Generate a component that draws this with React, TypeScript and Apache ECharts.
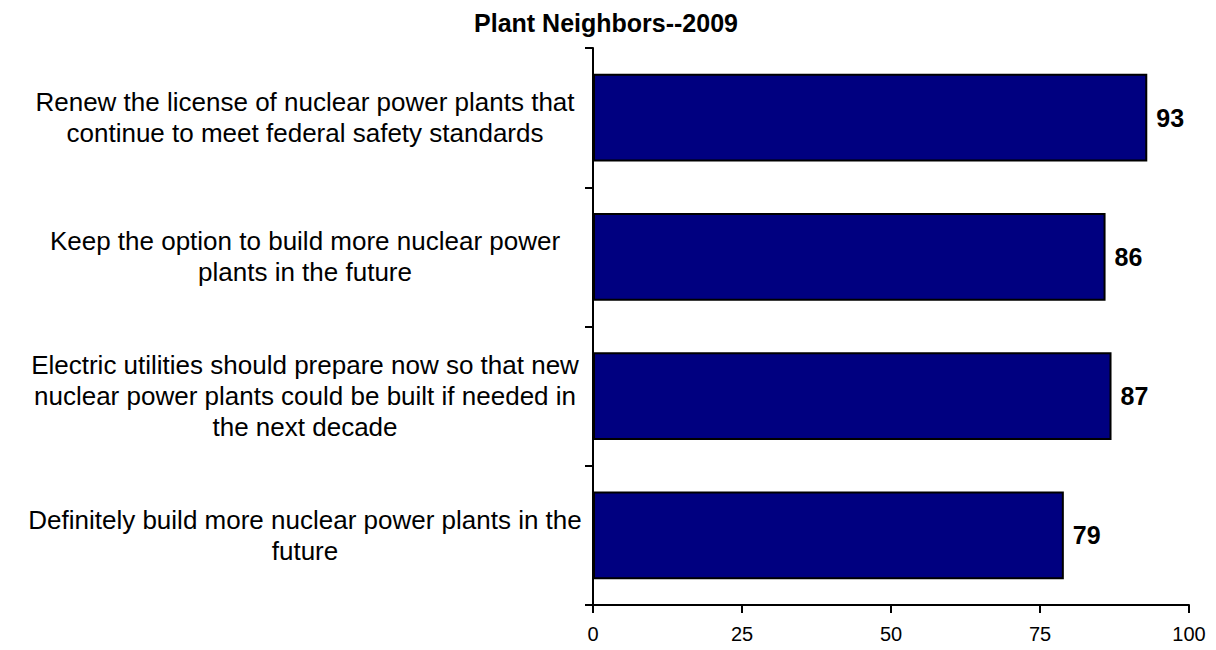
import React, { useEffect, useRef } from "react";
import * as echarts from "echarts";

const title = "Plant Neighbors--2009";
const categories = [
  "Renew the license of nuclear power plants that\ncontinue to meet federal safety standards",
  "Keep the option to build more nuclear power\nplants in the future",
  "Electric utilities should prepare now so that new\nnuclear power plants could be built if needed in\nthe next decade",
  "Definitely build more nuclear power plants in the\nfuture",
];
const values = [93, 86, 87, 79];
const xTicks = { min: 0, max: 100, interval: 25 };

export default function App() {
  const ref = useRef<HTMLDivElement>(null);
  useEffect(() => {
    if (!ref.current) return;
    const chart = echarts.init(ref.current, undefined, { renderer: "svg" });
    const font = "Liberation Sans, Arial, sans-serif";
    chart.setOption({
      animation: false,
      title: {
        text: title,
        left: 606,
        top: 10,
        padding: 0,
        textAlign: "center",
        textStyle: { fontFamily: font, fontSize: 25, lineHeight: 25, fontWeight: "bold", color: "#000" },
      },
      grid: { left: 593, right: 27, top: 48, bottom: 45, containLabel: false, outerBoundsMode: "none" },
      xAxis: {
        type: "value",
        min: xTicks.min,
        max: xTicks.max,
        interval: xTicks.interval,
        splitLine: { show: false },
        axisLine: { show: true, lineStyle: { color: "#000", width: 2 } },
        axisTick: { show: true, length: 8, lineStyle: { color: "#000", width: 2 } },
        axisLabel: { fontFamily: font, fontSize: 20, color: "#000", margin: 19 },
      },
      yAxis: {
        type: "category",
        inverse: true,
        data: categories,
        axisLine: { show: true, lineStyle: { color: "#000", width: 2 } },
        axisTick: { show: true, length: 8, lineStyle: { color: "#000", width: 2 } },
        axisLabel: {
          fontFamily: font,
          fontSize: 26,
          color: "#000",
          align: "center",
          margin: 288,
          lineHeight: 31,
        },
      },
      series: [
        {
          type: "bar",
          data: values,
          barCategoryGap: "37%",
          itemStyle: { color: "#000080", borderColor: "#000", borderWidth: 2 },
          label: {
            show: true,
            position: "right",
            distance: 9,
            fontFamily: font,
            fontSize: 25,
            fontWeight: "bold",
            color: "#000",
          },
        },
      ],
    });
    return () => chart.dispose();
  }, []);
  return (
    <div
      ref={ref}
      style={{ position: "absolute", left: 0, top: 0, width: 1216, height: 650 }}
    />
  );
}
